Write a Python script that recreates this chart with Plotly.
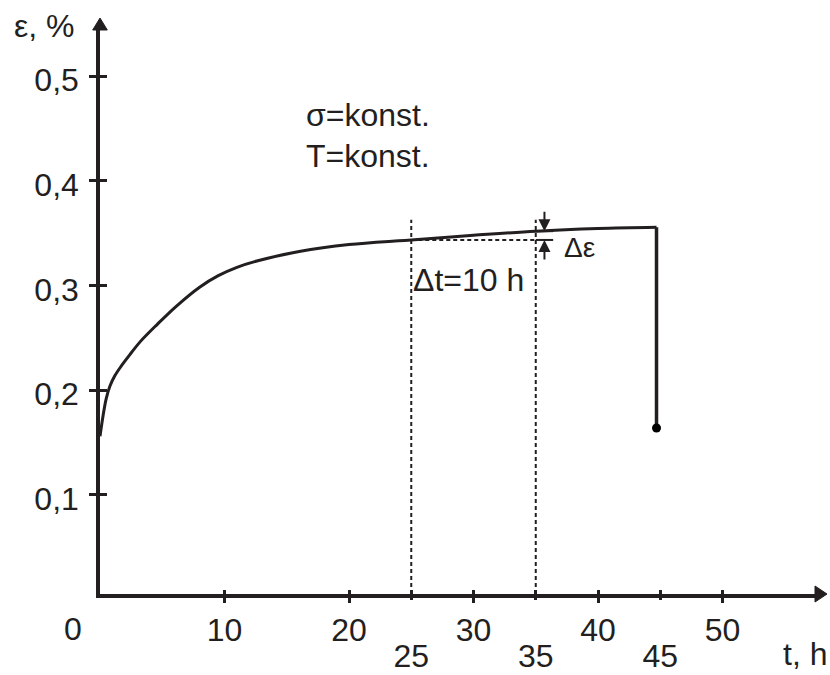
import plotly.graph_objects as go

# ---- data ----
t_curve = [0, 0.25, 0.5, 0.8, 1.2, 1.7, 2.4, 3.2, 4.6, 6.1, 8.0, 9.5, 11.0, 12.6, 16, 20, 24, 25, 30, 35, 40, 44.7]
eps_curve = [0.156, 0.176, 0.192, 0.204, 0.214, 0.223, 0.234, 0.246, 0.263, 0.280, 0.2985, 0.3095, 0.3175, 0.3235,
             0.3325, 0.3392, 0.3428, 0.3436, 0.348, 0.352, 0.3545, 0.3557]
t_break = [44.7, 44.7]
eps_break = [0.3557, 0.164]
t_marks = [25, 35]
eps_at25 = 0.3436
eps_at35 = 0.352
eps_dotted_top = 0.363
t_deps = 35.7
t_deps_end = 36.4

x_ticks_top = [10, 20, 30, 40, 50]
x_ticks_low = [25, 35, 45]
y_ticks = [0.1, 0.2, 0.3, 0.4, 0.5]
y_ticklabels = ["0,1", "0,2", "0,3", "0,4", "0,5"]

x_range = [0, 57.43]
y_range = [0.00535, 0.5442]

INK = "#231f20"
FONT = "Liberation Sans, Arial, sans-serif"
FS = 32

fig = go.Figure()

# dotted guide lines
for tm in t_marks:
    fig.add_trace(go.Scatter(x=[tm, tm], y=[y_range[0], eps_dotted_top], mode="lines",
                             line=dict(color=INK, width=2, dash="4px,3px"),
                             hoverinfo="skip", showlegend=False))
fig.add_trace(go.Scatter(x=t_marks, y=[eps_at25, eps_at25], mode="lines",
                         line=dict(color=INK, width=2, dash="4px,3px"),
                         hoverinfo="skip", showlegend=False))
# short solid ticks for delta-epsilon
fig.add_trace(go.Scatter(x=[t_marks[1], t_deps_end], y=[eps_at25, eps_at25], mode="lines",
                         line=dict(color=INK, width=2), hoverinfo="skip", showlegend=False))
fig.add_trace(go.Scatter(x=[t_marks[1], t_deps_end], y=[eps_at35, eps_at35], mode="lines",
                         line=dict(color=INK, width=2), hoverinfo="skip", showlegend=False))

# creep curve
fig.add_trace(go.Scatter(x=t_curve, y=eps_curve, mode="lines",
                         line=dict(color=INK, width=3, shape="spline", smoothing=1.0),
                         showlegend=False))
# rupture drop
fig.add_trace(go.Scatter(x=t_break, y=eps_break, mode="lines",
                         line=dict(color=INK, width=3.5), showlegend=False))
fig.add_trace(go.Scatter(x=t_break[1:], y=eps_break[1:], mode="markers",
                         marker=dict(color="#000000", size=9, line=dict(width=0)),
                         showlegend=False))

# dummy traces for overlay axes
fig.add_trace(go.Scatter(x=[], y=[], xaxis="x2", yaxis="y", showlegend=False))
fig.add_trace(go.Scatter(x=[], y=[], xaxis="x3", yaxis="y", showlegend=False))
fig.add_trace(go.Scatter(x=[], y=[], xaxis="x", yaxis="y2", showlegend=False))

tickfont = dict(family=FONT, size=FS, color=INK)
fig.update_layout(
    width=830, height=675, autosize=False,
    margin=dict(l=100, r=15, t=30, b=81, pad=0),
    paper_bgcolor="white", plot_bgcolor="white",
    showlegend=False,
    xaxis=dict(range=x_range, showline=True, linewidth=3.5, linecolor=INK, automargin=False,
               ticks="outside", ticklen=5, tickwidth=3, tickcolor=INK,
               tickvals=x_ticks_top, ticktext=[str(v) for v in x_ticks_top],
               tickfont=tickfont, showgrid=False, zeroline=False, ticklabelstandoff=0),
    xaxis2=dict(range=x_range, overlaying="x", anchor="y", side="bottom", showline=False,
                automargin=False,
                ticks="outside", ticklen=5, tickwidth=3, tickcolor=INK,
                tickvals=x_ticks_low, ticktext=[str(v) for v in x_ticks_low],
                tickfont=tickfont, showgrid=False, zeroline=False, ticklabelstandoff=29),
    xaxis3=dict(range=x_range, overlaying="x", anchor="y", side="bottom", showline=False,
                automargin=False,
                ticks="inside", ticklen=4, tickwidth=3, tickcolor=INK,
                tickvals=x_ticks_top + x_ticks_low, showticklabels=False,
                showgrid=False, zeroline=False),
    yaxis=dict(range=y_range, showline=True, linewidth=3.5, linecolor=INK, automargin=False,
               ticks="outside", ticklen=7, tickwidth=3, tickcolor=INK,
               tickvals=y_ticks, ticktext=y_ticklabels,
               tickfont=tickfont, showgrid=False, zeroline=False, ticklabelstandoff=4,
               ticklabelshift=4),
    yaxis2=dict(range=y_range, overlaying="y", anchor="x", side="left", showline=False,
                automargin=False,
                ticks="inside", ticklen=7, tickwidth=3, tickcolor=INK,
                tickvals=y_ticks, showticklabels=False, showgrid=False, zeroline=False),
)

# axis arrow heads
fig.add_shape(type="path", xref="paper", yref="paper", xsizemode="pixel", ysizemode="pixel",
              xanchor=1, yanchor=0, path="M0,-8 L12,0 L0,8 Z",
              fillcolor=INK, line=dict(color=INK, width=1))
fig.add_shape(type="path", xref="paper", yref="paper", xsizemode="pixel", ysizemode="pixel",
              xanchor=0, yanchor=1, path="M-7.3,0 L0,12 L7.3,0 Z",
              fillcolor=INK, line=dict(color=INK, width=1))

def txt(text, x, y, xanchor="left", size=FS, xref="x", yref="y"):
    fig.add_annotation(text=text, x=x, y=y, xref=xref, yref=yref, xanchor=xanchor,
                       yanchor="middle", showarrow=False,
                       font=dict(family=FONT, size=size, color=INK))

txt("σ=konst.", 16.4, 0.4627)
txt("T=konst.", 16.4, 0.4240)
txt("Δt=10 h", 25.0, 0.3056)
txt("Δε", 38.5, 0.3364, xanchor="center", size=28)
txt("ε, %", -0.1235, 1.0071, xref="paper", yref="paper")
txt("t, h", 1.0196, -0.1058, xanchor="right", xref="paper", yref="paper")
txt("0", -0.0378, -0.0621, xanchor="center", xref="paper", yref="paper")

# delta-epsilon arrows
fig.add_annotation(x=t_deps, y=eps_at35, ax=0, ay=-21, text="", showarrow=True,
                   arrowhead=2, arrowsize=1.2, arrowwidth=2, arrowcolor=INK)
fig.add_annotation(x=t_deps, y=eps_at25, ax=0, ay=21, text="", showarrow=True,
                   arrowhead=2, arrowsize=1.2, arrowwidth=2, arrowcolor=INK)

fig.write_html("out.html")
